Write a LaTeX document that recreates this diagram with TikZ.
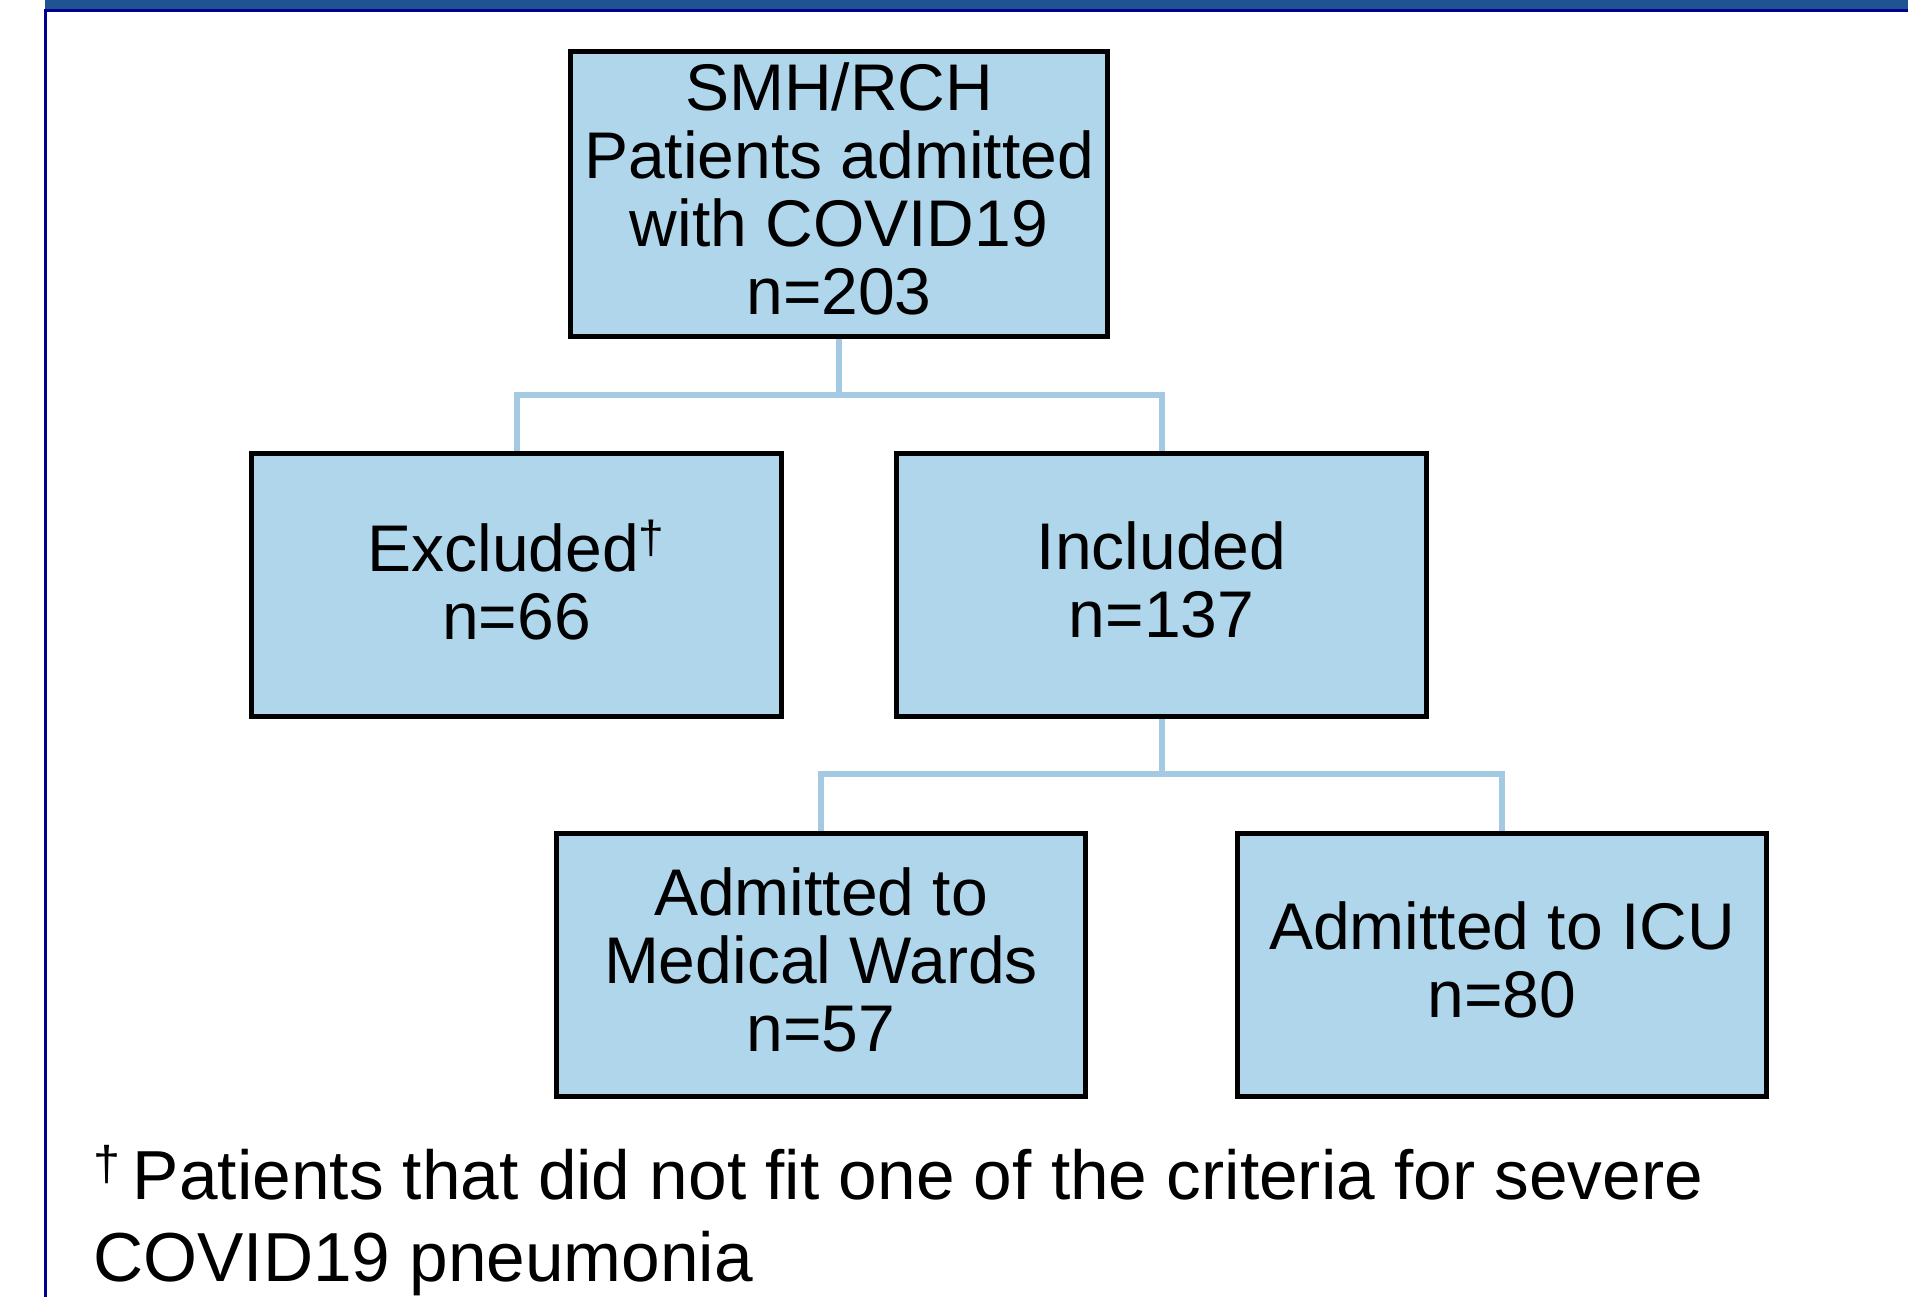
\documentclass[tikz,border=0pt]{standalone}
\usepackage{fontspec}
\setmainfont{Liberation Sans}
\definecolor{boxfill}{RGB}{176,214,236}
\definecolor{conn}{RGB}{163,201,227}
\definecolor{band}{RGB}{31,84,147}
\definecolor{navy}{RGB}{0,0,144}
\newcommand{\lowpad}{\rule[-5pt]{0pt}{0pt}}
\begin{document}
\begin{tikzpicture}[x=0.5pt,y=-0.5pt,
  flowbox/.style={draw=black, line width=2.5pt, fill=boxfill, align=center,
    inner sep=0pt, font=\fontsize{33}{34}\selectfont},
  link/.style={draw=conn, line width=3pt},
  notetext/.style={anchor=base west, inner sep=0pt, font=\fontsize{34.7}{41}\selectfont}]
\useasboundingbox (0,0) rectangle (1908,1297);
\fill[white] (0,0) rectangle (1908,1297);
% frame
\fill[band] (45,0) rectangle (1908,9);
\fill[navy] (45,9) rectangle (1908,11.5);
\fill[navy] (43.5,9) rectangle (46.5,1297);
% boxes
\node[flowbox, minimum width=268.5pt, minimum height=142.5pt] (top) at (839,194)
  {SMH/RCH\\Patients admitted\\with COVID19\\n=203\lowpad};
\node[flowbox, minimum width=265pt, minimum height=131.5pt] (excl) at (516.5,585)
  {Excluded\textsuperscript{†}\\n=66\lowpad};
\node[flowbox, minimum width=265pt, minimum height=131.5pt] (incl) at (1161.5,585)
  {Included\\n=137\lowpad};
\node[flowbox, minimum width=264.5pt, minimum height=131.5pt] (ward) at (821,964.5)
  {Admitted to\\Medical Wards\\n=57\lowpad};
\node[flowbox, minimum width=264.5pt, minimum height=131.5pt] (icu) at (1502,964.5)
  {Admitted to ICU\\n=80\lowpad};
% connectors
\coordinate (j1) at (839,395);
\coordinate (j2) at (1161.5,774);
\draw[link] (top.south) -- (j1) -| (excl.north);
\draw[link] (j1) -| (incl.north);
\draw[link] (incl.south) -- (j2) -| (ward.north);
\draw[link] (j2) -| (icu.north);
% footnote
\node[notetext] (note1) at (93,1199)
  {\textsuperscript{†}\,Patients that did not fit one of the criteria for severe};
\node[notetext] (note2) at (93,1281) {COVID19 pneumonia};
\end{tikzpicture}
\end{document}
